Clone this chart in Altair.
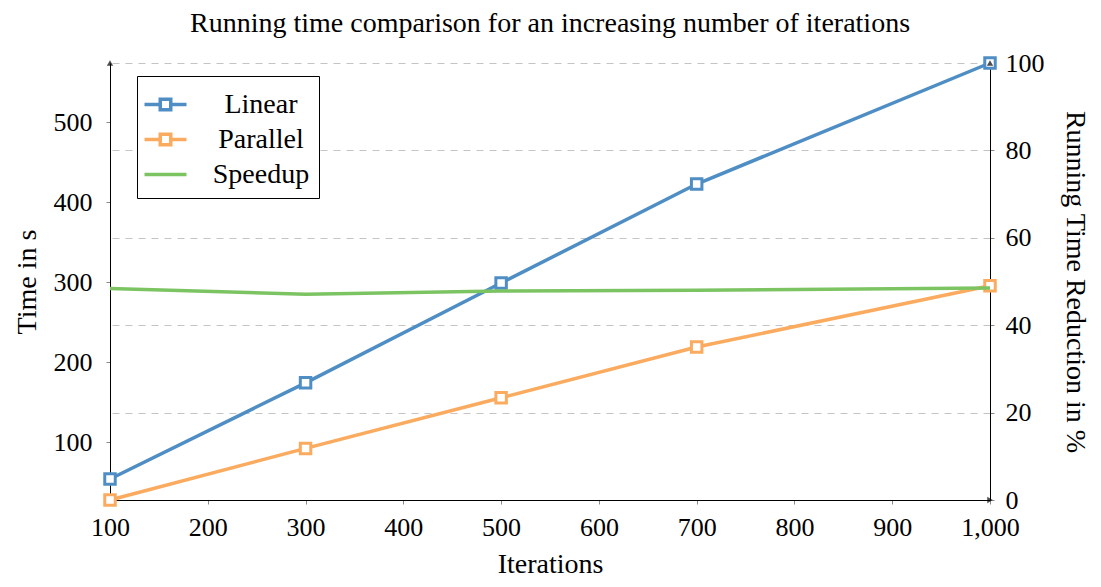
import altair as alt
import pandas as pd

# ---- data ----
iterations = [100, 300, 500, 700, 1000]
linear_time = [53.8, 174.0, 298.8, 422.5, 573.8]
parallel_time = [27.5, 92.0, 155.3, 218.8, 295.3]
speedup_pct = [48.4, 47.1, 47.8, 48.0, 48.5]

series_names = ["Linear", "Parallel", "Speedup"]
series_colors = ["#4f8ec4", "#fbab5f", "#7cc462"]

x_ticks = [100, 200, 300, 400, 500, 600, 700, 800, 900, 1000]
left_ticks = [100, 200, 300, 400, 500]
right_ticks = [0, 20, 40, 60, 80, 100]
x_domain = [100, 1000]
left_domain = [27.5, 573.8]
right_domain = [0, 100]

title_text = "Running time comparison for an increasing number of iterations"
FONT = "Liberation Serif"

time_df = pd.DataFrame({
    "Iterations": iterations * 2,
    "Time": linear_time + parallel_time,
    "Series": ["Linear"] * len(iterations) + ["Parallel"] * len(iterations),
})
speed_df = pd.DataFrame({
    "Iterations": iterations,
    "Reduction": speedup_pct,
    "Series": ["Speedup"] * len(iterations),
})
left_arrow_df = pd.DataFrame({"Iterations": [x_domain[0]], "Time": [left_domain[1]]})
right_arrow_df = pd.DataFrame({"Iterations": [x_domain[1]], "Reduction": [right_domain[1]]})
x_arrow_df = pd.DataFrame({"Iterations": [x_domain[1]], "Reduction": [right_domain[0]]})

# legend symbols: line with a square marker, or a plain line
LEG_LINE_SQ = "M-1.2,0H-0.3M0.3,0H1.2M-0.3,-0.3H0.3V0.3H-0.3Z"
LEG_LINE = "M-1.2,0H1.2"
legend_shapes = [LEG_LINE_SQ, LEG_LINE_SQ, LEG_LINE]

x_scale = alt.Scale(domain=x_domain, nice=False, zero=False)
color_scale = alt.Scale(domain=series_names, range=series_colors)
shape_scale = alt.Scale(domain=series_names, range=legend_shapes)

legend = alt.Legend(
    title=None,
    orient="none",
    legendX=27,
    legendY=13,
    strokeColor="black",
    fillColor="white",
    cornerRadius=0,
    padding=9,
    symbolSize=1225,
    symbolStrokeWidth=3.5,
    labelFont=FONT,
    labelFontSize=28,
    labelColor="black",
    labelAlign="center",
    labelOffset=76,
    rowPadding=1,
)

x_enc = alt.X(
    "Iterations:Q",
    scale=x_scale,
    axis=alt.Axis(
        title="Iterations",
        values=x_ticks,
        format=",d",
        labelFlush=False,
        grid=False,
        domainColor="black",
        domainWidth=1,
        tickColor="#888888",
        tickSize=4,
        labelPadding=10,
        titlePadding=10,
    ),
)
left_y = alt.Y(
    "Time:Q",
    scale=alt.Scale(domain=left_domain, nice=False, zero=False),
    axis=alt.Axis(
        title="Time in s",
        values=left_ticks,
        labelFlush=False,
        grid=False,
        domainColor="black",
        tickColor="#888888",
        tickSize=4,
        labelPadding=14,
        titlePadding=12,
    ),
)
right_y = alt.Y(
    "Reduction:Q",
    scale=alt.Scale(domain=right_domain, nice=False),
    axis=alt.Axis(
        title="Running Time Reduction in %",
        orient="right",
        values=right_ticks,
        labelFlush=False,
        grid=True,
        gridColor="#c4c4c4",
        gridDash=[7, 6],
        gridWidth=1.2,
        domainColor="black",
        tickColor="#888888",
        tickSize=4,
        labelPadding=11,
        titlePadding=16,
    ),
)

color_noleg = alt.Color("Series:N", scale=color_scale, legend=None)

# legend-only layer (no rows drawn)
legend_layer = alt.Chart(time_df).transform_filter("false").mark_point(
    filled=False, fill="white", fillOpacity=1, opacity=1, strokeWidth=3.5
).encode(
    x=x_enc,
    y=left_y,
    color=alt.Color("Series:N", scale=color_scale, legend=legend),
    shape=alt.Shape("Series:N", scale=shape_scale, legend=legend),
)

time_base = alt.Chart(time_df)
time_lines = time_base.mark_line(strokeWidth=3.5).encode(x=x_enc, y=left_y, color=color_noleg)
time_points = time_base.mark_point(
    shape="square", filled=False, fill="white", fillOpacity=1, size=110, strokeWidth=3, opacity=1
).encode(x=x_enc, y=left_y, color=color_noleg)
left_arrow = alt.Chart(left_arrow_df).mark_point(
    shape="triangle-up", filled=True, color="black", size=40
).encode(x=x_enc, y=left_y)

left_layer = alt.layer(legend_layer, time_lines, time_points, left_arrow)

speed_line = alt.Chart(speed_df).mark_line(strokeWidth=3.5).encode(x=x_enc, y=right_y, color=color_noleg)
right_arrow = alt.Chart(right_arrow_df).mark_point(
    shape="triangle-up", filled=True, color="black", size=40
).encode(x=x_enc, y=right_y)
x_arrow = alt.Chart(x_arrow_df).mark_point(
    shape="triangle-right", filled=True, color="black", size=40
).encode(x=x_enc, y=right_y)
right_layer = alt.layer(speed_line, right_arrow, x_arrow)

chart = (
    alt.layer(left_layer, right_layer)
    .resolve_scale(y="independent")
    .properties(
        width=880,
        height=437,
        title=alt.TitleParams(
            title_text, font=FONT, fontSize=28, fontWeight="normal",
            anchor="middle", offset=12, color="black",
        ),
        autosize=alt.AutoSizeParams(type="none"),
        padding={"left": 102, "top": 55, "right": 103, "bottom": 79},
    )
    .configure_view(stroke=None)
    .configure_axis(
        labelFont=FONT, titleFont=FONT, labelFontSize=26, titleFontSize=28,
        titleFontWeight="normal", labelColor="black", titleColor="black",
    )
)

chart.save("out.html", embed_options={"renderer": "svg", "actions": False})
